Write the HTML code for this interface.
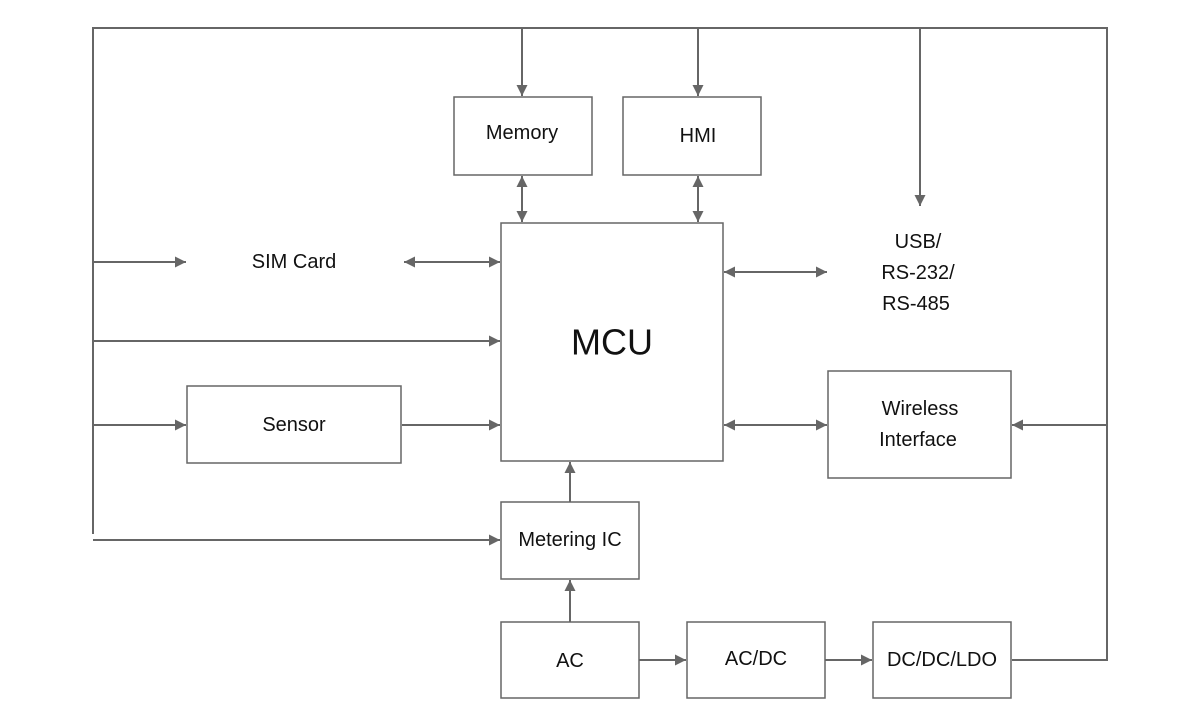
<!DOCTYPE html>
<html><head><meta charset="utf-8"><style>
html,body{margin:0;padding:0;background:#fff;}
svg{display:block;}
text{font-family:"Liberation Sans","Noto Sans CJK SC",sans-serif;font-size:20px;fill:#111;text-anchor:middle;dominant-baseline:central;}
</style></head><body>
<svg width="1200" height="727" viewBox="0 0 1200 727" xmlns="http://www.w3.org/2000/svg">
<defs>
<marker id="a" markerUnits="userSpaceOnUse" markerWidth="12" markerHeight="12" refX="11" refY="6" orient="auto-start-reverse">
<path d="M0,0.5 L11,6 L0,11.5 Z" fill="#666"/>
</marker>
</defs>
<g fill="none" stroke="#666" stroke-width="2">
<!-- bus -->
<polyline points="93,534 93,28 1107,28 1107,660 1012,660"/>
<line x1="522" y1="28" x2="522" y2="96" marker-end="url(#a)"/>
<line x1="698" y1="28" x2="698" y2="96" marker-end="url(#a)"/>
<line x1="920" y1="28" x2="920" y2="206" marker-end="url(#a)"/>
<line x1="522" y1="176" x2="522" y2="222" marker-start="url(#a)" marker-end="url(#a)"/>
<line x1="698" y1="176" x2="698" y2="222" marker-start="url(#a)" marker-end="url(#a)"/>
<line x1="93" y1="262" x2="186" y2="262" marker-end="url(#a)"/>
<line x1="404" y1="262" x2="500" y2="262" marker-start="url(#a)" marker-end="url(#a)"/>
<line x1="93" y1="341" x2="500" y2="341" marker-end="url(#a)"/>
<line x1="93" y1="425" x2="186" y2="425" marker-end="url(#a)"/>
<line x1="402" y1="425" x2="500" y2="425" marker-end="url(#a)"/>
<line x1="93" y1="540" x2="500" y2="540" marker-end="url(#a)"/>
<line x1="724" y1="272" x2="827" y2="272" marker-start="url(#a)" marker-end="url(#a)"/>
<line x1="724" y1="425" x2="827" y2="425" marker-start="url(#a)" marker-end="url(#a)"/>
<line x1="1107" y1="425" x2="1012" y2="425" marker-end="url(#a)"/>
<line x1="570" y1="502" x2="570" y2="462" marker-end="url(#a)"/>
<line x1="570" y1="622" x2="570" y2="580" marker-end="url(#a)"/>
<line x1="639" y1="660" x2="686" y2="660" marker-end="url(#a)"/>
<line x1="825" y1="660" x2="872" y2="660" marker-end="url(#a)"/>
</g>
<g fill="#fff" stroke="#666" stroke-width="1.5">
<rect x="454" y="97" width="138" height="78"/>
<rect x="623" y="97" width="138" height="78"/>
<rect x="501" y="223" width="222" height="238"/>
<rect x="187" y="386" width="214" height="77"/>
<rect x="828" y="371" width="183" height="107"/>
<rect x="501" y="502" width="138" height="77"/>
<rect x="501" y="622" width="138" height="76"/>
<rect x="687" y="622" width="138" height="76"/>
<rect x="873" y="622" width="138" height="76"/>
</g>
<text x="522" y="133">Memory</text>
<text x="698" y="136">HMI</text>
<text x="294" y="262">SIM Card</text>
<text x="612" y="342" style="font-size:36px">MCU</text>
<text x="294" y="425">Sensor</text>
<text x="918" y="242">USB/</text>
<text x="918" y="273">RS-232/</text>
<text x="916" y="304">RS-485</text>
<text x="920" y="409">Wireless</text>
<text x="918" y="440">Interface</text>
<text x="570" y="540">Metering IC</text>
<text x="570" y="661">AC</text>
<text x="756" y="659">AC/DC</text>
<text x="942" y="660">DC/DC/LDO</text>
</svg>
</body></html>
